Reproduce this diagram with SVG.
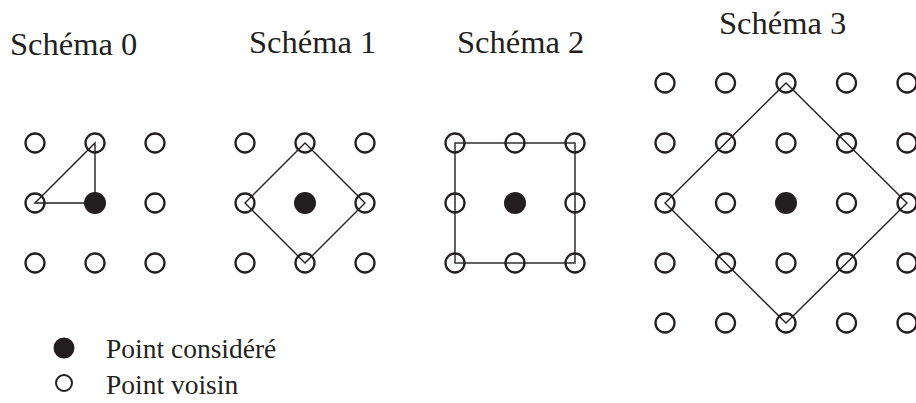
<svg xmlns="http://www.w3.org/2000/svg" width="916" height="403" viewBox="0 0 916 403">
<style>
.t{font-family:"Liberation Serif","Times New Roman",serif;font-size:32.5px;fill:#231f20}
.l{font-family:"Liberation Serif","Times New Roman",serif;font-size:27.5px;fill:#231f20}
.o{fill:none;stroke:#231f20;stroke-width:2.3}
.f{fill:#231f20}
.e{fill:none;stroke:#231f20;stroke-width:1.4;stroke-linejoin:miter}
</style>
<defs>
<circle id="oc" r="9.5" class="o"/>
<circle id="fc" r="11" class="f"/>
</defs>
<rect width="916" height="403" fill="#fff"/>
<g id="connectors">
<polygon class="e" points="35,203 95,143 95,203"/>
<polygon class="e" points="305,143 365,203 305,263 245,203"/>
<rect class="e" x="455" y="143" width="120" height="120"/>
<polygon class="e" points="786,83 907,203 786,323 665,203"/>
</g>
<g id="schema0">
<text class="t" x="10" y="55">Schéma 0</text>
<use href="#oc" x="35" y="143"/><use href="#oc" x="95" y="143"/><use href="#oc" x="155" y="143"/>
<use href="#oc" x="35" y="203"/><use href="#fc" x="95" y="203"/><use href="#oc" x="155" y="203"/>
<use href="#oc" x="35" y="263"/><use href="#oc" x="95" y="263"/><use href="#oc" x="155" y="263"/>
</g>
<g id="schema1">
<text class="t" x="249" y="53">Schéma 1</text>
<use href="#oc" x="245" y="143"/><use href="#oc" x="305" y="143"/><use href="#oc" x="365" y="143"/>
<use href="#oc" x="245" y="203"/><use href="#fc" x="305" y="203"/><use href="#oc" x="365" y="203"/>
<use href="#oc" x="245" y="263"/><use href="#oc" x="305" y="263"/><use href="#oc" x="365" y="263"/>
</g>
<g id="schema2">
<text class="t" x="457" y="53">Schéma 2</text>
<use href="#oc" x="455" y="143"/><use href="#oc" x="515" y="143"/><use href="#oc" x="575" y="143"/>
<use href="#oc" x="455" y="203"/><use href="#fc" x="515" y="203"/><use href="#oc" x="575" y="203"/>
<use href="#oc" x="455" y="263"/><use href="#oc" x="515" y="263"/><use href="#oc" x="575" y="263"/>
</g>
<g id="schema3">
<text class="t" x="719" y="34">Schéma 3</text>
<use href="#oc" x="665" y="83"/><use href="#oc" x="725.5" y="83"/><use href="#oc" x="786" y="83"/><use href="#oc" x="846.5" y="83"/><use href="#oc" x="907" y="83"/>
<use href="#oc" x="665" y="143"/><use href="#oc" x="725.5" y="143"/><use href="#oc" x="786" y="143"/><use href="#oc" x="846.5" y="143"/><use href="#oc" x="907" y="143"/>
<use href="#oc" x="665" y="203"/><use href="#oc" x="725.5" y="203"/><use href="#fc" x="786" y="203"/><use href="#oc" x="846.5" y="203"/><use href="#oc" x="907" y="203"/>
<use href="#oc" x="665" y="263"/><use href="#oc" x="725.5" y="263"/><use href="#oc" x="786" y="263"/><use href="#oc" x="846.5" y="263"/><use href="#oc" x="907" y="263"/>
<use href="#oc" x="665" y="323"/><use href="#oc" x="725.5" y="323"/><use href="#oc" x="786" y="323"/><use href="#oc" x="846.5" y="323"/><use href="#oc" x="907" y="323"/>
</g>
<g id="legend">
<circle cx="64" cy="348" r="10.5" class="f"/>
<text class="l" x="106" y="358">Point considéré</text>
<circle cx="64" cy="383" r="8" class="o" style="stroke-width:2"/>
<text class="l" x="106" y="394">Point voisin</text>
</g>
</svg>
